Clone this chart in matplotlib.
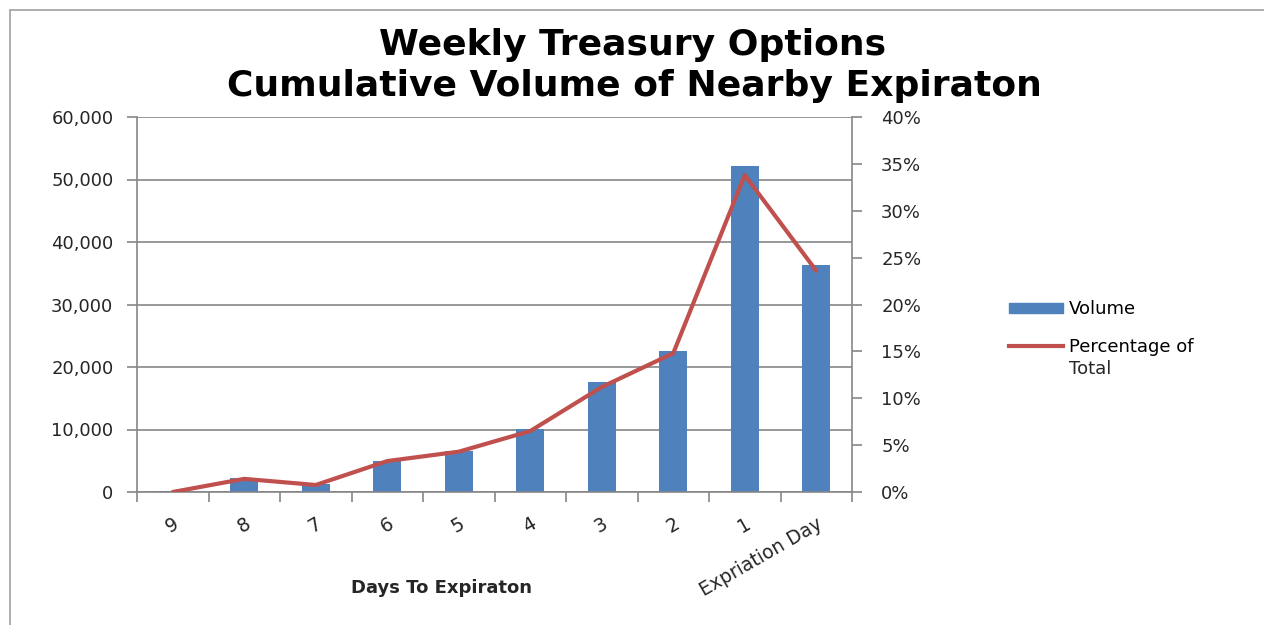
import matplotlib.pyplot as plt
from matplotlib.ticker import FuncFormatter, MultipleLocator
from matplotlib.lines import Line2D
from matplotlib.patches import Patch

days = ["9", "8", "7", "6", "5", "4", "3", "2", "1", "Expriation Day"]
volume = [100, 2200, 1300, 5000, 6500, 10100, 17600, 22600, 52200, 36400]
pct_total = [0.0, 1.4, 0.75, 3.3, 4.3, 6.5, 11.2, 14.8, 33.8, 23.6]

bar_color = "#4F81BD"
line_color = "#C0504D"
axis_gray = "#868686"
text_color = "#262626"
fs = 13

fig = plt.figure(figsize=(12.64, 6.25), dpi=100)
# outer chart frame
fig.patches.append(plt.Rectangle((10 / 1264, -0.01), 1.0, 1 - 10 / 625 + 0.01,
                                 transform=fig.transFigure, fill=False,
                                 edgecolor="#A0A0A0", lw=1.2))

ax = fig.add_axes([137 / 1264, 1 - 492 / 625, (852 - 137) / 1264, (492 - 117) / 625])
x = list(range(len(days)))
ax.bar(x, volume, width=0.39, color=bar_color, zorder=2)
ax.set_xlim(-0.5, len(days) - 0.5)
ax.set_ylim(0, 60000)
ax.yaxis.set_major_locator(MultipleLocator(10000))
ax.yaxis.set_major_formatter(FuncFormatter(lambda v, p: f"{int(v):,}"))
ax.grid(axis="y", color=axis_gray, lw=1.2, zorder=0)
ax.set_axisbelow(True)

ax.set_xticks([i - 0.5 for i in range(len(days) + 1)])
ax.set_xticklabels([])
ax.set_xticks(x, minor=True)
ax.set_xticklabels(days, minor=True, rotation=30, ha="right", rotation_mode="anchor",
                   fontsize=13.5, color=text_color)
ax.tick_params(axis="x", which="major", length=7, color=axis_gray, width=1.2)
ax.tick_params(axis="x", which="minor", length=0, pad=16)
ax.tick_params(axis="y", length=7, color=axis_gray, width=1.2, labelsize=fs,
               labelcolor=text_color, pad=10)
for s in ["top", "right"]:
    ax.spines[s].set_visible(False)
for s in ["left", "bottom"]:
    ax.spines[s].set_color(axis_gray)
    ax.spines[s].set_linewidth(1.2)

ax2 = ax.twinx()
ax2.plot(x, pct_total, color=line_color, lw=3, zorder=3, solid_capstyle="round")
ax2.set_ylim(0, 40)
ax2.yaxis.set_major_locator(MultipleLocator(5))
ax2.yaxis.set_major_formatter(FuncFormatter(lambda v, p: f"{int(v)}%"))
ax2.tick_params(axis="y", length=7, color=axis_gray, width=1.2, labelsize=fs,
                labelcolor=text_color, pad=14)
for s in ["top", "left", "bottom"]:
    ax2.spines[s].set_visible(False)
ax2.spines["right"].set_color(axis_gray)
ax2.spines["right"].set_linewidth(1.2)

fig.text(633 / 1264, 1 - 45 / 625, "Weekly Treasury Options", ha="center", va="center",
         fontsize=26, fontweight="bold", color="black")
fig.text(634 / 1264, 1 - 86 / 625, "Cumulative Volume of Nearby Expiraton", ha="center",
         va="center", fontsize=26, fontweight="bold", color="black")
fig.text(441 / 1264, 1 - 588 / 625, "Days To Expiraton", ha="center", va="center",
         fontsize=fs, fontweight="bold", color=text_color)

handles = [Patch(color=bar_color, label="Volume"),
           Line2D([], [], color=line_color, lw=3, label="Percentage of")]
fig.legend(handles=handles, loc="upper left", bbox_to_anchor=(993 / 1264, 1 - 284 / 625),
           frameon=False, fontsize=fs, handlelength=3.0, handleheight=0.45,
           labelspacing=1.1, handletextpad=0.3)
fig.text(1069 / 1264, 1 - 369 / 625, "Total", ha="left", va="center",
         fontsize=fs, color=text_color)

fig.savefig("out.png", dpi=100)
